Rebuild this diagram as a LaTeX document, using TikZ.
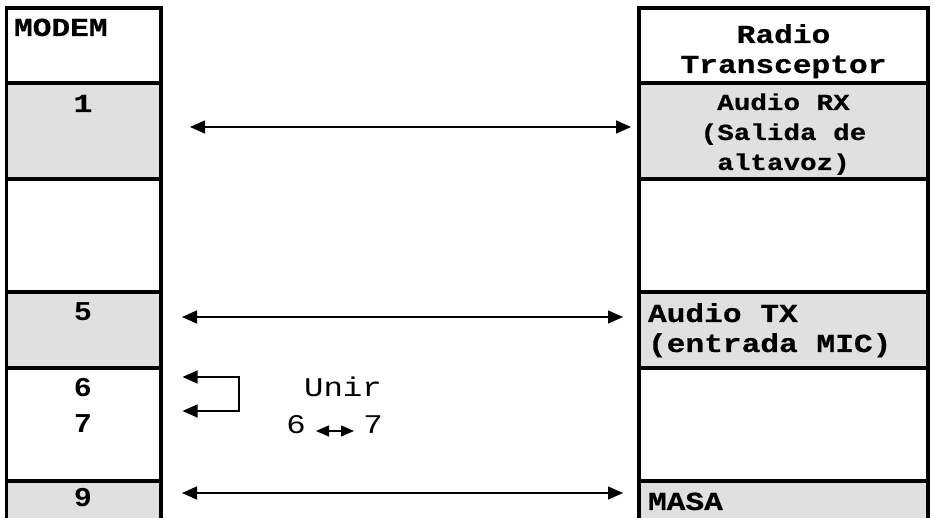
\documentclass[tikz,border=0pt]{standalone}
\usepackage{fontspec}
\usetikzlibrary{arrows.meta}
\newfontfamily\cmono[FakeStretch=1.2, FakeBold=0.6]{Liberation Mono}
\newfontfamily\cmonoreg[FakeStretch=1.2]{Liberation Mono}
\newfontfamily\csans[FakeStretch=1.15]{Liberation Sans}
\definecolor{cellgray}{HTML}{E0E0E0}
\tikzset{
  grid/.style={line width=3.5pt, line join=miter},
  cellfill/.style={fill=cellgray},
  txt/.style={inner sep=0pt, outer sep=0pt},
  hdr/.style={txt, font=\cmono\bfseries\fontsize{26}{30}\selectfont},
  pin/.style={txt, font=\csans\bfseries\fontsize{26}{28}\selectfont},
  note/.style={txt, font=\cmonoreg\fontsize{27}{30}\selectfont},
  link/.style={line width=1.5pt, {Triangle[length=15pt,width=13pt]}-{Triangle[length=15pt,width=13pt]}},
  smalllink/.style={line width=1.3pt, {Triangle[length=13pt,width=11pt]}-{Triangle[length=13pt,width=11pt]}},
}
\begin{document}
\begin{tikzpicture}[x=1pt,y=-1pt]
\useasboundingbox (0,0) rectangle (935,518);
% cell fills
\foreach \xa/\xb in {6.5/161, 639/928}{
  \fill[cellfill] (\xa,83) rectangle (\xb,179);
  \fill[cellfill] (\xa,292) rectangle (\xb,368);
  \fill[cellfill] (\xa,481) rectangle (\xb,530);
}
% table borders
\foreach \xa/\xb in {6.5/161, 639/928}{
  \draw[grid] (\xa,530) -- (\xa,8) -- (\xb,8) -- (\xb,530);
  \foreach \yy in {83,179,292,368,481}
    \draw[grid] (\xa,\yy) -- (\xb,\yy);
}
% left texts
\node[hdr, anchor=base west] (modem) at (14,36) {MODEM};
\node[hdr, anchor=base] (p1) at (83,112) {1};
\node[pin, anchor=base] (p5) at (83,321) {5};
\node[pin, anchor=base] (p6) at (83,397) {6};
\node[pin, anchor=base] (p7) at (83,433) {7};
\node[pin, anchor=base] (p9) at (83,507) {9};
% right texts (base anchor = baseline of the last line)
\node[hdr, anchor=base, align=center] (radio) at (783.5,73) {Radio\\Transceptor};
\node[txt, anchor=base, align=center, font=\cmono\bfseries\fontsize{23}{30}\selectfont] (rx) at (783.5,170) {Audio RX\\(Salida de\\altavoz)};
\node[hdr, anchor=base west, align=left] (tx) at (648,352) {Audio TX\\(entrada MIC)};
\node[hdr, anchor=base west] (masa) at (648,510) {MASA};
% note
\node[note, anchor=base] (unir) at (343,397) {Unir};
\node[note, anchor=base] (u6) at (296,434) {6};
\node[note, anchor=base] (u7) at (373,434) {7};
\coordinate (s6) at (316,431);
\coordinate (s7) at (354,431);
\draw[smalllink] (s6) -- (s7);
% connectors
\coordinate (a1l) at (190,127); \coordinate (a1r) at (631,127);
\coordinate (a5l) at (182,317); \coordinate (a5r) at (623,317);
\coordinate (a9l) at (182,493); \coordinate (a9r) at (623,493);
\draw[link] (a1l) -- (a1r);
\draw[link] (a5l) -- (a5r);
\draw[link] (a9l) -- (a9r);
% bridge 6-7
\coordinate (b6) at (182.5,377); \coordinate (b7) at (182.5,411);
\coordinate (k6) at (239,377); \coordinate (k7) at (239,411);
\draw[link, line join=miter] (b6) -- (k6) -- (k7) -- (b7);
\end{tikzpicture}
\end{document}
